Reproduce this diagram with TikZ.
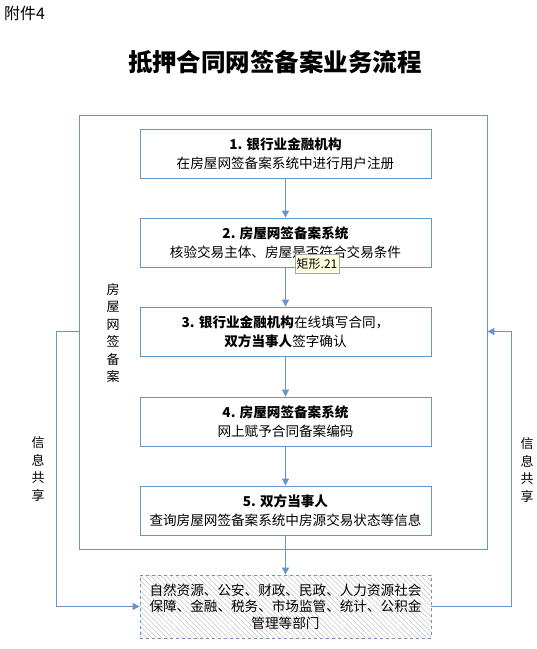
\documentclass[tikz,border=0pt]{standalone}
\usepackage{fontspec}
\setmainfont{Noto Sans CJK SC}
\usetikzlibrary{arrows.meta,patterns.meta}
\definecolor{bl}{RGB}{104,149,201}
\definecolor{tipfill}{RGB}{255,255,225}
\definecolor{hatch}{RGB}{195,195,195}
\tikzset{
  stepbox/.style={draw=bl,line width=0.8pt,minimum width=291pt,minimum height=49pt,align=center,inner sep=0pt,font=\fontsize{13.6}{19}\selectfont,fill=white},
  arr/.style={draw=bl,line width=0.8pt,-{Triangle[length=7pt,width=7pt]}},
  vlabel/.style={align=center,inner sep=0pt,font=\fontsize{13}{17.5}\selectfont},
}
\begin{document}
\begin{tikzpicture}[x=1pt,y=-1pt]
\useasboundingbox (0,0) rectangle (537,649);
\node[anchor=west,inner sep=0pt,font=\fontsize{16}{16}\selectfont] (att) at (4,13) {附件4};
\node[inner sep=0pt,font=\fontsize{24.5}{24.5}\selectfont\bfseries] (title) at (275,62) {抵押合同网签备案业务流程};
\node[draw=bl,line width=0.8pt,minimum width=408pt,minimum height=434pt,inner sep=0pt] (outer) at (283,332) {};
\node[stepbox] (b1) at (285.5,153.5) {\textbf{1. 银行业金融机构}\\在房屋网签备案系统中进行用户注册};
\node[stepbox] (b2) at (285.5,242.5) {\textbf{2. 房屋网签备案系统}\\核验交易主体、房屋是否符合交易条件};
\node[stepbox] (b3) at (285.5,331.5) {\textbf{3. 银行业金融机构}在线填写合同，\\\textbf{双方当事人}签字确认};
\node[stepbox] (b4) at (285.5,421.5) {\textbf{4. 房屋网签备案系统}\\网上赋予合同备案编码};
\node[stepbox] (b5) at (285.5,510.5) {\textbf{5. 双方当事人}\\查询房屋网签备案系统中房源交易状态等信息};
\path[pattern={Lines[angle=-45,distance=3.6pt,line width=0.5pt]},pattern color=hatch] (140,575) rectangle (431,638);
\node[draw=bl,dashed,line width=0.8pt,minimum width=291pt,minimum height=63pt,align=center,inner sep=0pt,font=\fontsize{13.6}{16.5}\selectfont] (bot) at (285.5,606.5) {自然资源、公安、财政、民政、人力资源社会\\保障、金融、税务、市场监管、统计、公积金\\管理等部门};
\node[vlabel] (fw) at (113,333) {房\\屋\\网\\签\\备\\案};
\node[vlabel] (sl) at (38,469) {信\\息\\共\\享};
\node[vlabel] (sr) at (527,470) {信\\息\\共\\享};
\draw[arr] (b1) -- (b2);
\draw[arr] (b2) -- (b3);
\draw[arr] (b3) -- (b4);
\draw[arr] (b4) -- (b5);
\draw[arr] (b5) -- (bot);
\draw[arr] (outer.west |- b3.center) -- ++(-22,0) |- (bot.west);
\draw[arr] (bot.east) -- ++(80,0) |- (outer.east |- b3.center);
\node[draw=gray!70,fill=tipfill,inner sep=1.5pt,minimum height=19pt,font=\fontsize{12}{12}\selectfont] (tip) at (317,263.5) {矩形.21};
\end{tikzpicture}
\end{document}
